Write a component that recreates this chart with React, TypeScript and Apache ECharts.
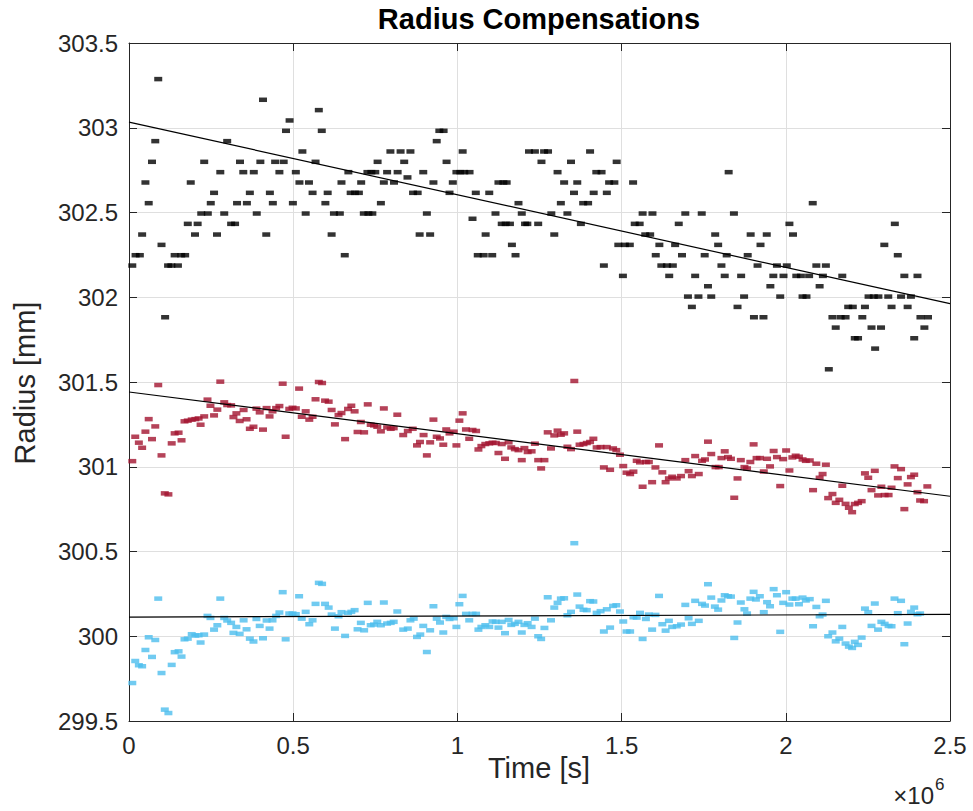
import React, { useEffect, useRef } from "react";
import * as echarts from "echarts";

// Time in kiloseconds, radius in mm
const blackPoints: [number, number][] = [
  [10,302.187],[20,302.248],[33,302.248],[40,302.370],[50,302.677],[60,302.555],[70,302.799],[80,302.921],[89,303.287],[99,302.309],[110,301.882],[119,302.187],[129,302.187],[139,302.248],[149,302.187],[159,302.248],[171,302.248],[179,302.433],[188,302.677],[201,302.370],[209,302.433],[220,302.494],[229,302.799],[240,302.494],[249,302.555],[259,302.616],[268,302.370],[278,302.738],[290,302.494],[299,302.921],[311,302.433],[323,302.433],[329,302.555],[338,302.799],[348,302.738],[359,302.555],[368,302.616],[380,302.738],[389,302.494],[400,302.799],[408,303.165],[418,302.370],[429,302.616],[438,302.555],[445,302.799],[458,302.738],[471,302.799],[478,302.982],[489,303.043],[499,302.555],[508,302.738],[519,302.677],[528,302.860],[538,302.494],[548,302.677],[559,302.616],[568,302.799],[578,303.104],[587,302.982],[598,302.555],[605,302.616],
  [617,302.370],[624,302.494],[642,302.494],[647,302.677],[657,302.248],[668,302.738],[675,302.616],[688,302.616],[700,302.616],[707,302.677],[715,302.494],[726,302.738],[729,302.494],[738,302.738],[741,302.494],[750,302.738],[757,302.799],[767,302.555],[776,302.677],[786,302.738],[796,302.860],[807,302.677],[818,302.738],[827,302.860],[838,302.799],[848,302.707],[857,302.860],[865,302.616],[879,302.616],[885,302.370],[896,302.738],[907,302.494],[917,302.370],[927,302.677],[937,302.921],[945,302.982],[958,302.982],[967,302.799],[976,302.616],[986,302.677],[997,302.738],[1009,302.738],[1016,302.860],[1021,302.738],[1037,302.738],[1046,302.463],[1056,302.616],[1062,302.248],[1080,302.248],[1086,302.370],[1097,302.616],[1106,302.248],[1116,302.494],[1125,302.677],[1135,302.433],[1140,302.677],[1147,302.433],[1150,302.677],[1160,302.433],[1166,302.309],[1177,302.248],[1186,302.555],[1196,302.494],[1206,302.433],[1218,302.860],
  [1213,302.433],[1236,302.860],[1246,302.433],[1256,302.799],[1264,302.860],[1276,302.860],[1286,302.494],[1295,302.370],[1305,302.738],[1315,302.555],[1325,302.677],[1335,302.494],[1346,302.799],[1355,302.616],[1365,302.677],[1376,302.433],[1383,302.555],[1398,302.555],[1404,302.860],[1415,302.616],[1423,302.738],[1439,302.738],[1446,302.187],[1455,302.616],[1462,302.677],[1478,302.677],[1485,302.799],[1490,302.309],[1504,302.126],[1510,302.309],[1525,302.309],[1535,302.677],[1540,302.433],[1555,302.433],[1564,302.494],[1572,302.370],[1587,302.370],[1594,302.494],[1604,302.248],[1615,302.309],[1621,302.187],[1638,302.187],[1645,302.126],[1656,302.187],[1663,302.309],[1674,302.433],[1684,302.248],[1694,302.494],[1702,302.004],[1714,301.943],[1724,302.126],[1734,302.004],[1744,302.494],[1753,302.248],[1763,302.065],[1773,302.004],[1785,302.370],[1794,302.309],[1804,302.187],[1814,302.126],[1820,302.248],[1826,302.738],
  [1842,302.494],[1853,301.943],[1864,302.126],[1873,302.004],[1884,302.248],[1893,302.370],[1903,301.882],[1914,302.187],[1923,302.309],[1932,301.882],[1942,302.370],[1953,302.065],[1962,302.126],[1973,302.187],[1983,302.004],[1993,302.126],[2003,302.187],[2011,302.433],[2022,302.370],[2032,302.126],[2046,302.126],[2051,302.004],[2063,302.004],[2071,302.126],[2082,302.555],[2093,302.187],[2103,302.065],[2113,302.126],[2122,302.187],[2131,301.575],[2142,301.882],[2152,301.821],[2167,301.882],[2172,302.126],[2182,301.882],[2190,301.943],[2204,301.943],[2210,301.758],[2220,301.758],[2233,301.882],[2241,301.943],[2252,302.004],[2261,301.821],[2268,302.004],[2272,301.697],[2282,302.004],[2290,301.821],[2300,302.309],[2312,302.004],[2322,301.943],[2332,302.433],[2341,302.248],[2351,302.004],[2361,302.126],[2371,301.943],[2381,302.004],[2391,301.758],[2401,302.126],[2410,301.882],[2422,301.821],[2433,301.882]
];

const redPoints: [number, number][] = [
  [10,301.033],[19,301.177],[30,301.142],[40,301.112],[50,301.207],[60,301.281],[70,301.163],[80,301.238],[89,301.482],[99,301.067],[109,300.843],[120,300.837],[130,301.138],[139,301.197],[151,301.201],[160,301.156],[169,301.268],[179,301.272],[191,301.278],[202,301.281],[212,301.285],[218,301.248],[229,301.297],[239,301.396],[248,301.360],[259,301.303],[269,301.337],[278,301.502],[290,301.380],[299,301.364],[311,301.362],[318,301.293],[327,301.315],[337,301.270],[349,301.335],[358,301.280],[368,301.224],[379,301.236],[388,301.343],[398,301.321],[408,301.219],[419,301.346],[428,301.297],[437,301.327],[448,301.346],[458,301.358],[468,301.490],[477,301.177],[488,301.341],[498,301.348],[508,301.344],[518,301.461],[526,301.295],[538,301.327],[549,301.278],[559,301.295],[568,301.398],[578,301.500],[588,301.494],[597,301.390],[608,301.384],[617,301.335],[627,301.250],[638,301.305],[647,301.317],[658,301.163],[667,301.341],[677,301.360],[687,301.327],[696,301.205],[706,301.264],[716,301.203],[727,301.368],[736,301.248],[746,301.244],[756,301.236],[767,301.209],[776,301.344],[786,301.232],[797,301.224],[806,301.228],[817,301.307],[835,301.187],
  [849,301.211],[864,301.224],[877,301.126],[886,301.146],[897,301.187],[907,301.067],[917,301.144],[927,301.278],[937,301.177],[947,301.167],[957,301.130],[966,301.220],[976,301.197],[989,301.207],[997,301.126],[1006,301.272],[1016,301.315],[1026,301.220],[1036,301.165],[1046,301.217],[1057,301.211],[1064,301.102],[1073,301.122],[1085,301.134],[1097,301.138],[1107,301.142],[1117,301.140],[1125,301.081],[1135,301.134],[1145,301.047],[1156,301.144],[1164,301.114],[1175,301.104],[1186,301.098],[1196,301.039],[1204,301.110],[1214,301.087],[1226,301.091],[1236,301.136],[1246,301.039],[1255,300.990],[1265,301.039],[1275,301.203],[1285,301.108],[1295,301.185],[1305,301.213],[1315,301.189],[1325,301.197],[1335,301.118],[1346,301.104],[1356,301.506],[1365,301.207],[1372,301.130],[1384,301.134],[1394,301.140],[1404,301.146],[1414,301.165],[1424,301.114],[1436,301.116],[1446,300.996],[1455,301.116],[1465,300.982],[1474,301.108],[1484,301.098],[1495,301.071],[1505,301.004],[1515,300.965],[1526,300.957],[1536,300.971],[1546,301.035],[1556,301.026],[1564,300.882],[1574,301.028],[1583,301.028],[1593,300.909],[1603,300.996],[1614,301.126],[1624,300.967],[1634,300.909],[1644,300.931],[1654,300.941],
  [1668,300.931],[1681,300.945],[1694,301.039],[1704,300.974],[1714,300.945],[1724,301.063],[1735,300.957],[1745,301.035],[1754,301.043],[1763,301.148],[1773,301.075],[1786,300.998],[1796,300.998],[1804,301.051],[1814,301.091],[1824,301.057],[1833,301.047],[1843,300.817],[1853,300.931],[1863,301.039],[1874,300.998],[1882,300.990],[1892,301.028],[1902,301.132],[1911,301.051],[1921,301.051],[1933,300.972],[1943,301.047],[1952,301.002],[1963,301.093],[1973,301.057],[1983,300.886],[1992,301.045],[2001,301.096],[2011,300.978],[2020,301.055],[2030,301.065],[2040,301.059],[2051,301.043],[2061,301.035],[2073,301.037],[2083,300.862],[2093,301.018],[2103,300.935],[2112,300.957],[2122,301.012],[2129,300.815],[2142,300.839],[2152,300.787],[2163,300.805],[2172,300.888],[2182,300.781],[2192,300.758],[2202,300.732],[2210,300.780],[2220,300.787],[2231,300.797],[2241,300.961],[2251,300.935],[2261,300.862],[2271,300.976],[2281,300.831],[2291,300.882],[2301,300.833],[2313,300.833],[2322,300.876],[2331,301.002],[2341,300.933],[2351,300.986],[2361,300.750],[2371,300.896],[2381,300.939],[2391,300.953],[2401,300.850],[2409,300.801],[2421,300.797],[2431,300.884]
];

const bluePoints: [number, number][] = [
  [10,299.724],[19,299.854],[30,299.829],[40,299.823],[50,299.919],[60,299.994],[70,299.878],[80,299.978],[89,300.222],[99,299.783],[109,299.567],[120,299.547],[130,299.831],[139,299.906],[151,299.911],[160,299.880],[169,299.982],[179,299.986],[191,300.012],[202,300.004],[212,300.006],[218,299.963],[229,300.010],[239,300.120],[248,300.108],[259,300.039],[269,300.065],[278,300.222],[290,300.108],[299,300.093],[311,300.079],[318,300.020],[327,300.055],[337,300.014],[349,300.094],[358,300.041],[368,299.986],[379,299.969],[388,300.102],[398,300.061],[408,299.988],[419,300.093],[428,300.045],[437,300.094],[448,300.120],[458,300.140],[468,300.260],[477,299.982],[488,300.134],[498,300.134],[508,300.130],[518,300.236],[526,300.104],[538,300.144],[549,300.071],[559,300.094],[568,300.191],[578,300.315],[588,300.309],[597,300.191],[608,300.169],[617,300.128],[627,300.045],[638,300.118],[647,300.142],[658,300.002],[667,300.138],[677,300.144],[687,300.154],[696,300.041],[706,300.079],[716,300.035],[727,300.197],[736,300.065],[746,300.069],[756,300.085],[767,300.065],[776,300.199],[786,300.075],[797,300.079],[806,300.085],[817,300.146],[835,300.039],
  [849,300.045],[857,300.094],[867,300.104],[877,299.996],[887,300.010],[896,300.061],[907,299.907],[917,300.035],[927,300.177],[937,300.104],[947,300.081],[957,300.022],[966,300.114],[976,300.102],[989,300.106],[997,300.055],[1006,300.189],[1016,300.238],[1026,300.132],[1036,300.094],[1046,300.132],[1057,300.132],[1064,300.039],[1073,300.055],[1085,300.065],[1097,300.055],[1107,300.087],[1117,300.085],[1125,300.051],[1135,300.085],[1145,300.018],[1156,300.096],[1164,300.067],[1175,300.073],[1186,300.085],[1196,300.022],[1204,300.067],[1214,300.077],[1226,300.055],[1236,300.104],[1246,300.000],[1255,299.984],[1265,300.049],[1275,300.230],[1285,300.094],[1295,300.169],[1305,300.197],[1315,300.222],[1325,300.224],[1335,300.124],[1346,300.144],[1356,300.549],[1365,300.246],[1372,300.175],[1384,300.156],[1394,300.154],[1404,300.207],[1414,300.205],[1424,300.138],[1436,300.148],[1446,300.028],[1455,300.159],[1465,300.051],[1474,300.179],[1484,300.183],[1495,300.146],[1505,300.087],[1515,300.028],[1526,300.028],[1536,300.112],[1546,300.110],[1556,300.138],[1564,299.984],[1574,300.102],[1583,300.128],[1593,300.039],[1603,300.126],[1614,300.238],[1624,300.071],[1634,300.033],[1644,300.091],[1654,300.055],
  [1668,300.059],[1681,300.069],[1694,300.185],[1704,300.106],[1714,300.073],[1724,300.209],[1735,300.091],[1745,300.191],[1754,300.181],[1763,300.307],[1773,300.228],[1784,300.175],[1794,300.157],[1804,300.211],[1814,300.242],[1824,300.236],[1833,300.234],[1843,299.990],[1853,300.081],[1863,300.199],[1874,300.159],[1882,300.134],[1892,300.222],[1902,300.262],[1909,300.217],[1921,300.236],[1933,300.142],[1943,300.201],[1952,300.177],[1963,300.278],[1973,300.242],[1983,300.026],[1992,300.197],[2001,300.260],[2011,300.187],[2020,300.222],[2030,300.222],[2040,300.189],[2051,300.228],[2061,300.211],[2073,300.219],[2083,300.059],[2093,300.173],[2103,300.118],[2112,300.128],[2122,300.209],[2129,300.000],[2142,300.022],[2152,299.970],[2163,299.986],[2172,300.055],[2182,299.957],[2192,299.939],[2202,299.931],[2210,299.967],[2220,299.949],[2231,299.992],[2241,300.163],[2251,300.142],[2261,300.061],[2271,300.193],[2281,300.039],[2291,300.085],[2301,300.073],[2313,300.061],[2322,300.059],[2331,300.222],[2341,300.136],[2351,300.209],[2361,299.953],[2371,300.075],[2381,300.144],[2391,300.169],[2401,300.130],[2409,300.134]
];

// Linear fit lines: [radius at t=0, radius at t=2.5e6 s]
const blackFit = [303.033, 301.962];
const redFit = [301.441, 300.826];
const blueFit = [300.113, 300.129];

const xTicks = [0, 0.5e6, 1e6, 1.5e6, 2e6, 2.5e6];
const yTicks = [299.5, 300, 300.5, 301, 301.5, 302, 302.5, 303, 303.5];

const FONT = "Liberation Sans, Arial, Helvetica, sans-serif";
const AX = "#262626";

export default function App() {
  const ref = useRef<HTMLDivElement>(null);
  useEffect(() => {
    if (!ref.current) return;
    const chart = echarts.init(ref.current, undefined, { renderer: "svg" });
    const xMin = xTicks[0];
    const xMax = xTicks[xTicks.length - 1];
    const toSec = (pts: [number, number][]) => pts.map(([t, r]) => [t * 1000, r]);
    const fitLine = (f: number[]) => [[xMin, f[0]], [xMax, f[1]]];
    const scatter = (name: string, pts: [number, number][], color: string) => ({
      name,
      type: "scatter",
      data: toSec(pts),
      symbol: "rect",
      symbolSize: [8, 4.5],
      itemStyle: { color },
      z: 2,
    });
    const line = (f: number[]) => ({
      type: "line",
      data: fitLine(f),
      symbol: "none",
      lineStyle: { color: "#000", width: 1.2 },
      z: 3,
    });
    const axisCommon = {
      type: "value",
      axisLine: { show: true, onZero: false, lineStyle: { color: AX, width: 1 } },
      axisTick: { show: true, inside: true, length: 8, lineStyle: { color: AX } },
    };
    chart.setOption({
      animation: false,
      backgroundColor: "#ffffff",
      grid: { left: 129, right: 23, top: 43, bottom: 90, show: false },
      xAxis: [
        {
          ...axisCommon,
          position: "bottom",
          min: xMin,
          max: xMax,
          interval: 0.5e6,
          axisLabel: {
            formatter: (v: number) => String(v / 1e6),
            color: AX,
            fontSize: 24,
            fontFamily: FONT,
            margin: 12,
          },
          splitLine: { show: true, lineStyle: { color: "#dfdfdf", width: 1 } },
        },
        {
          ...axisCommon,
          position: "top",
          min: xMin,
          max: xMax,
          interval: 0.5e6,
          axisLabel: { show: false },
          splitLine: { show: false },
        },
      ],
      yAxis: [
        {
          ...axisCommon,
          position: "left",
          min: yTicks[0],
          max: yTicks[yTicks.length - 1],
          interval: 0.5,
          axisLabel: { color: AX, fontSize: 24, fontFamily: FONT, margin: 11 },
          splitLine: { show: true, lineStyle: { color: "#dfdfdf", width: 1 } },
        },
        {
          ...axisCommon,
          position: "right",
          min: yTicks[0],
          max: yTicks[yTicks.length - 1],
          interval: 0.5,
          axisLabel: { show: false },
          splitLine: { show: false },
        },
      ],
      series: [
        scatter("Black", blackPoints, "#000000"),
        scatter("Red", redPoints, "#A2142F"),
        scatter("Blue", bluePoints, "#4DBEEE"),
        line(blackFit),
        line(redFit),
        line(blueFit),
      ],
      graphic: [
        {
          type: "text",
          x: 539,
          y: 19,
          style: {
            text: "Radius Compensations",
            fontSize: 29,
            fontWeight: "bold",
            fontFamily: FONT,
            fill: "#000",
            textAlign: "center",
            textVerticalAlign: "middle",
          },
        },
        {
          type: "text",
          x: 539,
          y: 768,
          style: {
            text: "Time [s]",
            fontSize: 29,
            fontFamily: FONT,
            fill: AX,
            textAlign: "center",
            textVerticalAlign: "middle",
          },
        },
        {
          type: "text",
          x: 25,
          y: 383,
          rotation: Math.PI / 2,
          style: {
            text: "Radius [mm]",
            fontSize: 29,
            fontFamily: FONT,
            fill: AX,
            textAlign: "center",
            textVerticalAlign: "middle",
          },
        },
        {
          type: "text",
          x: 934,
          y: 795,
          style: {
            text: "×10",
            fontSize: 24,
            fontFamily: FONT,
            fill: AX,
            textAlign: "right",
            textVerticalAlign: "middle",
          },
        },
        {
          type: "text",
          x: 935,
          y: 784,
          style: {
            text: "6",
            fontSize: 17,
            fontFamily: FONT,
            fill: AX,
            textAlign: "left",
            textVerticalAlign: "middle",
          },
        },
      ],
    });
    return () => chart.dispose();
  }, []);
  return (
    <div
      ref={ref}
      style={{ position: "fixed", left: 0, top: 0, width: 973, height: 811, background: "#fff" }}
    />
  );
}
